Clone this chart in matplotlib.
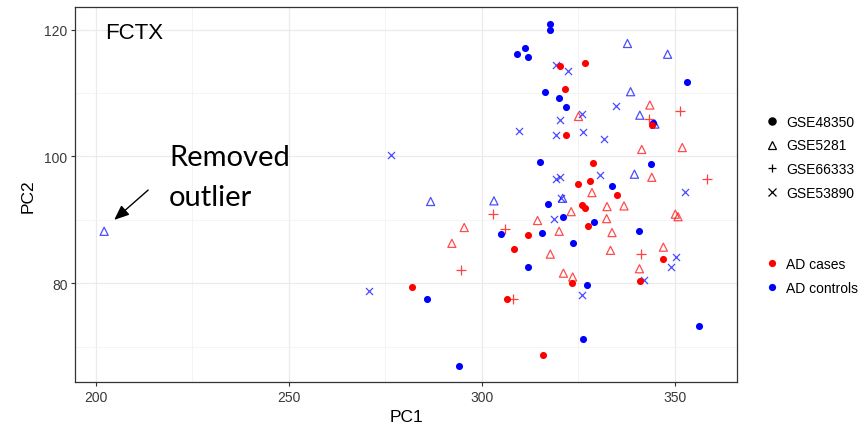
"""
PCA of frontal cortex (FCTX) samples: PC1 vs PC2 by dataset and diagnosis.
"""

import matplotlib
matplotlib.use("Agg")
import matplotlib.pyplot as plt
from matplotlib.lines import Line2D

plt.rcParams["font.family"] = ["Liberation Sans", "DejaVu Sans"]

RED = "#FF0000"
BLUE = "#0000FF"

# GSE48350 (filled circles)
gse48350_case_pc1 = [281.9, 320.4, 326.9, 321.5, 344.1, 321.8, 328.8, 324.9, 328.2, 335.0,
                     326.0, 326.7, 327.7, 311.9, 308.5, 347.1, 323.3, 341.1, 306.6, 315.8]
gse48350_case_pc2 = [79.5, 114.2, 114.7, 110.7, 104.9, 103.3, 98.9, 95.7, 96.2, 93.9,
                     92.3, 91.8, 89.1, 87.6, 85.4, 83.9, 80.0, 80.4, 77.6, 68.7]
gse48350_ctrl_pc1 = [285.8, 294.1, 317.6, 317.7, 311.3, 309.1, 312.1, 353.2, 316.5, 320.1,
                     321.8, 344.5, 315.1, 344.0, 333.7, 317.3, 321.1, 329.0, 305.1, 315.7,
                     340.7, 323.6, 312.0, 327.4, 356.4, 326.3]
gse48350_ctrl_pc2 = [77.6, 67.0, 120.9, 120.0, 117.1, 116.1, 115.7, 111.8, 110.2, 109.2,
                     107.8, 105.3, 99.1, 98.8, 95.4, 92.5, 90.4, 89.6, 87.8, 87.9,
                     88.2, 86.3, 82.5, 79.8, 73.3, 71.2]

# GSE5281 (open triangles)
gse5281_case_pc1 = [295.5, 292.3, 343.6, 325.1, 341.5, 352.0, 344.1, 328.6, 332.5, 336.9,
                    323.2, 350.2, 350.9, 314.5, 332.4, 320.1, 333.8, 317.8, 333.4, 347.1,
                    340.9, 321.2, 323.6]
gse5281_case_pc2 = [88.8, 86.3, 108.1, 106.3, 101.1, 101.4, 96.7, 94.3, 92.1, 92.2,
                    91.3, 90.9, 90.5, 89.9, 90.2, 88.2, 88.0, 84.6, 85.2, 85.7,
                    82.3, 81.6, 81.0]
gse5281_ctrl_pc1 = [202.2, 286.8, 337.8, 348.2, 338.6, 341.0, 344.9, 339.6, 303.2, 321.0]
gse5281_ctrl_pc2 = [88.2, 92.9, 117.8, 116.1, 110.2, 106.5, 105.1, 97.2, 93.0, 93.4]

# GSE66333 (plus), cases only
gse66333_case_pc1 = [294.6, 351.5, 343.3, 358.4, 303.0, 306.1, 341.2, 308.2]
gse66333_case_pc2 = [82.1, 107.2, 105.9, 96.4, 91.0, 88.6, 84.6, 77.6]

# GSE53890 (cross), controls only
gse53890_ctrl_pc1 = [276.5, 270.9, 319.3, 322.4, 334.9, 326.0, 320.4, 309.8, 319.2, 326.4,
                     331.7, 319.3, 320.4, 330.6, 352.8, 320.7, 318.8, 350.3, 349.0, 342.0,
                     325.9]
gse53890_ctrl_pc2 = [100.3, 78.8, 114.4, 113.4, 107.9, 106.7, 105.7, 104.0, 103.4, 103.9,
                     102.8, 96.4, 96.7, 97.1, 94.4, 93.5, 90.2, 84.1, 82.5, 80.6,
                     78.1]

dataset_labels = ["GSE48350", "GSE5281", "GSE66333", "GSE53890"]
dataset_markers = ["o", "^", "+", "x"]
group_labels = ["AD cases", "AD controls"]
group_colors = [RED, BLUE]

x_major = [200, 250, 300, 350]
x_minor = [225, 275, 325]
y_major = [80, 100, 120]
y_minor = [70, 90, 110]

fig = plt.figure(figsize=(8.67, 4.35), dpi=100)
ax = fig.add_axes([0.0863, 0.1188, 0.7643, 0.8621])

# open shapes first, filled circles on top
ax.scatter(gse5281_case_pc1, gse5281_case_pc2, marker="^", s=34, facecolors="none",
           edgecolors=RED, linewidths=0.9, alpha=0.7, zorder=3)
ax.scatter(gse5281_ctrl_pc1, gse5281_ctrl_pc2, marker="^", s=34, facecolors="none",
           edgecolors=BLUE, linewidths=0.9, alpha=0.7, zorder=3)
ax.scatter(gse66333_case_pc1, gse66333_case_pc2, marker="+", s=50, color=RED,
           linewidths=0.9, alpha=0.75, zorder=3)
ax.scatter(gse53890_ctrl_pc1, gse53890_ctrl_pc2, marker="x", s=26, color=BLUE,
           linewidths=0.9, alpha=0.7, zorder=3)
ax.scatter(gse48350_ctrl_pc1, gse48350_ctrl_pc2, marker="o", s=26, color=BLUE,
           linewidths=0, zorder=4)
ax.scatter(gse48350_case_pc1, gse48350_case_pc2, marker="o", s=26, color=RED,
           linewidths=0, zorder=4)

ax.set_xlim(194.6, 366.3)
ax.set_ylim(64.4, 123.5)
ax.set_xticks(x_major)
ax.set_xticks(x_minor, minor=True)
ax.set_yticks(y_major)
ax.set_yticks(y_minor, minor=True)
ax.grid(which="major", color="#EBEBEB", lw=0.9, zorder=0)
ax.grid(which="minor", color="#F2F2F2", lw=0.6, zorder=0)
ax.set_axisbelow(True)
ax.tick_params(which="major", direction="out", length=2.75, width=0.8,
               color="#333333", labelsize=10, labelcolor="#3A3A3A", pad=2.5)
ax.tick_params(which="minor", length=0)
for sp in ax.spines.values():
    sp.set_color("#333333")
    sp.set_linewidth(0.9)

ax.set_xlabel("PC1", fontsize=12.5, labelpad=4)
ax.set_ylabel("PC2", fontsize=12.5, labelpad=6)

ax.text(202.4, 119.6, "FCTX", fontsize=16, ha="left", va="center")

ax.annotate("", xy=(204.8, 90.0), xytext=(213.6, 94.7),
            arrowprops=dict(arrowstyle="-|>,head_length=0.6,head_width=0.25",
                            color="black", lw=1.0, mutation_scale=15,
                            shrinkA=0, shrinkB=0))
ax.text(219.0, 102.0, "Removed\noutlier", fontsize=21, family=["Lato", "DejaVu Sans"],
        ha="left", va="top", linespacing=1.68)

# legends: shape = dataset, colour = diagnosis
shape_handles = []
for lab, mk in zip(dataset_labels, dataset_markers):
    if mk == "^":
        h = Line2D([], [], ls="none", marker=mk, markersize=6, markerfacecolor="none",
                   markeredgecolor="black", markeredgewidth=0.9, label=lab)
    else:
        h = Line2D([], [], ls="none", marker=mk, markersize=6 if mk != "o" else 5.2,
                   color="black", markeredgewidth=0.9, label=lab)
    shape_handles.append(h)

color_handles = [Line2D([], [], ls="none", marker="o", markersize=5.2, color=c,
                        markeredgewidth=0, label=lab)
                 for lab, c in zip(group_labels, group_colors)]

leg_kw = dict(frameon=False, fontsize=10, handlelength=1.0, handletextpad=0.53,
              labelspacing=0.7, borderpad=0, borderaxespad=0, loc="center left")
fig.legend(handles=shape_handles, bbox_to_anchor=(0.882, 0.636), **leg_kw)
fig.legend(handles=color_handles, bbox_to_anchor=(0.882, 0.3628), **leg_kw)

plt.savefig("out.png", dpi=100)
